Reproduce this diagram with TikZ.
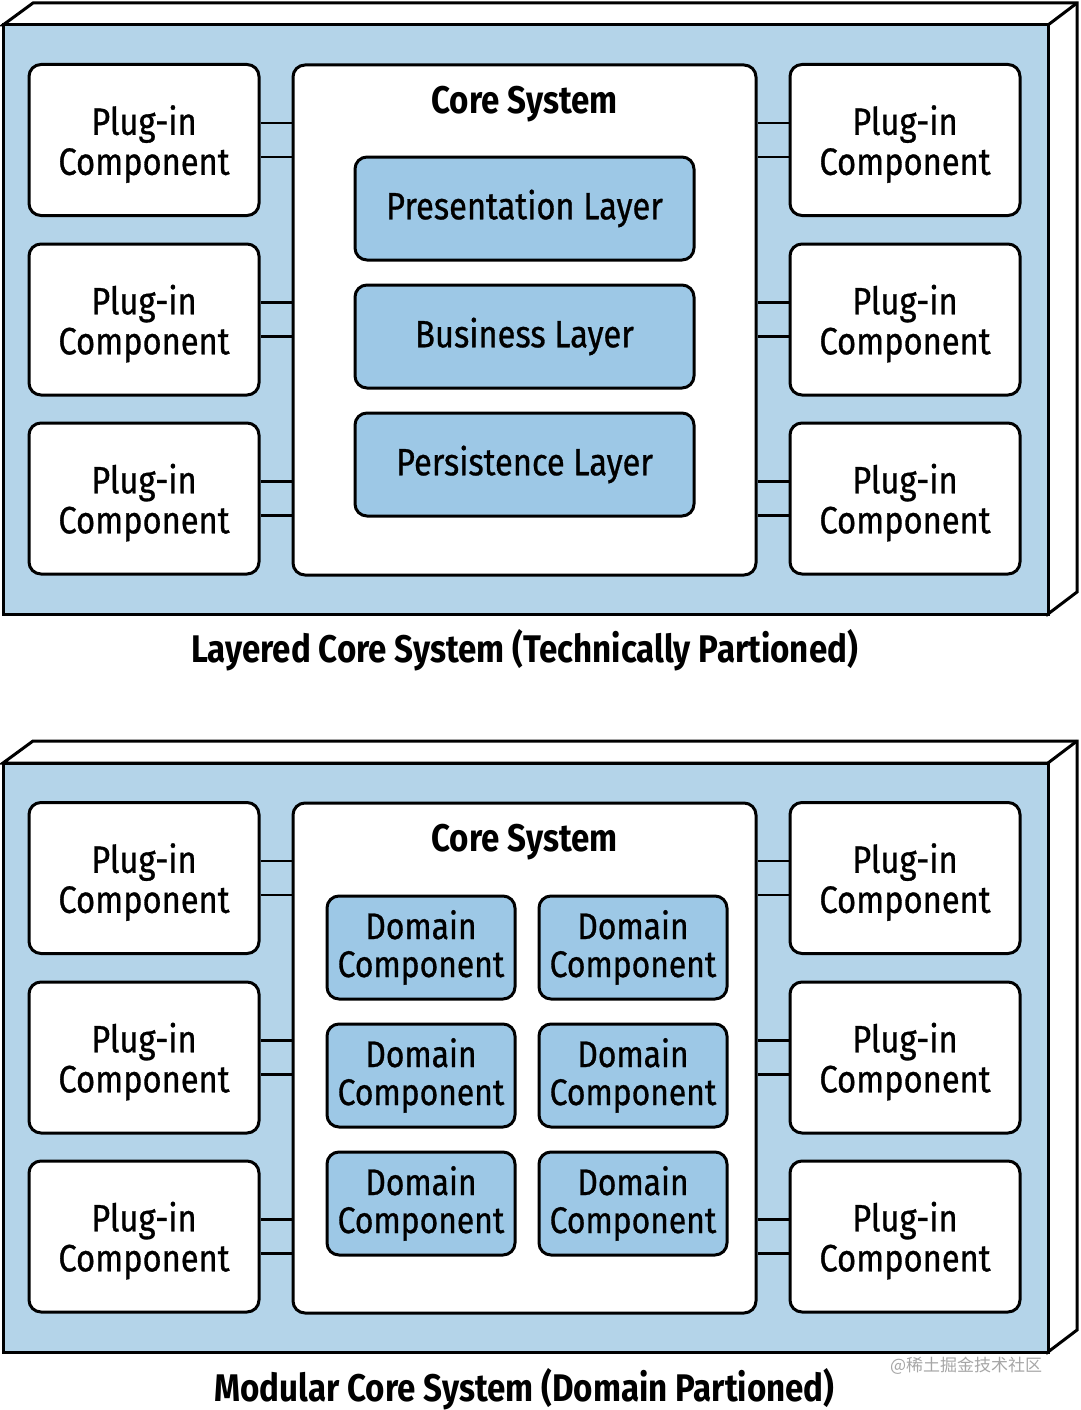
\documentclass[tikz,border=0pt]{standalone}
\usepackage{fontspec}
\setmainfont{Fira Sans}[FakeStretch=0.86,UprightFeatures={FakeBold=0.8}]
\newfontfamily\cjk{Noto Sans CJK SC}
\begin{document}
\definecolor{bgblue}{HTML}{B4D4E9}
\definecolor{lblue}{HTML}{9DC8E6}
\begin{tikzpicture}[x=1pt,y=-1pt,line width=3pt,
  plug/.style={draw,fill=white,rounded corners=12pt,minimum width=230pt,minimum height=151pt,align=center,font=\fontsize{38}{40}\selectfont,inner sep=0pt,text depth=0pt},
  core/.style={draw,fill=white,rounded corners=12pt,minimum width=463pt,minimum height=510pt,inner sep=0pt},
  layer/.style={draw,fill=lblue,rounded corners=12pt,minimum width=339pt,minimum height=103pt,font=\fontsize{38}{40}\selectfont,inner sep=0pt},
  dom/.style={draw,fill=lblue,rounded corners=12pt,minimum width=188pt,minimum height=103pt,align=center,font=\fontsize{37}{38}\selectfont,inner sep=0pt},
  ttl/.style={font=\bfseries\fontsize{38.5}{40}\selectfont},
  conn/.style={line width=2.5pt}]
\useasboundingbox (0,0) rectangle (1080,1410);
\foreach \o/\n in {0/A,738/B}{
  \begin{scope}[yshift=-\o pt]
  \draw[fill=white,line join=miter] (3,25) -- (33,3) -- (1077,3) -- (1077,592) -- (1048,614) -- (1048,25) -- cycle;
  \draw[fill=bgblue] (3,25) rectangle (1048,614);
  \draw (1048,25) -- (1077,3);
  \node[core] (\n core) at (524.5,320) {};
  \node[ttl] (\n ct) at (524.5,104) {Core System};
  \foreach \r/\y in {1/140,2/319.5,3/498.5}{
    \node[plug] (\n L\r) at (144,\y) {Plug-in\\Component};
    \node[plug] (\n R\r) at (905,\y) {Plug-in\\Component};
    \draw[conn] ([yshift=-17pt]\n L\r.east) -- ([yshift=-17pt]\n L\r.east -| \n core.west);
    \draw[conn] ([yshift=17pt]\n L\r.east) -- ([yshift=17pt]\n L\r.east -| \n core.west);
    \draw[conn] ([yshift=-17pt]\n R\r.west) -- ([yshift=-17pt]\n R\r.west -| \n core.east);
    \draw[conn] ([yshift=17pt]\n R\r.west) -- ([yshift=17pt]\n R\r.west -| \n core.east);
  }
  \end{scope}
}
\node[layer] (pl) at (524.5,208.5) {Presentation Layer};
\node[layer] (bl) at (524.5,336.5) {Business Layer};
\node[layer] (pe) at (524.5,464.5) {Persistence Layer};
\node[ttl] (cap1) at (524.5,650) {Layered Core System (Technically Partioned)};
\foreach \r/\y in {1/947.5,2/1075.5,3/1203.5}{
  \node[dom] (d\r a) at (421,\y) {Domain\\Component};
  \node[dom] (d\r b) at (633,\y) {Domain\\Component};
}
\node[ttl] (cap2) at (524.5,1389) {Modular Core System (Domain Partioned)};
\node[text=gray!70,font=\cjk\fontsize{17}{18}\selectfont,anchor=east] (wm) at (1047,1366) {@稀土掘金技术社区};
\end{tikzpicture}
\end{document}
